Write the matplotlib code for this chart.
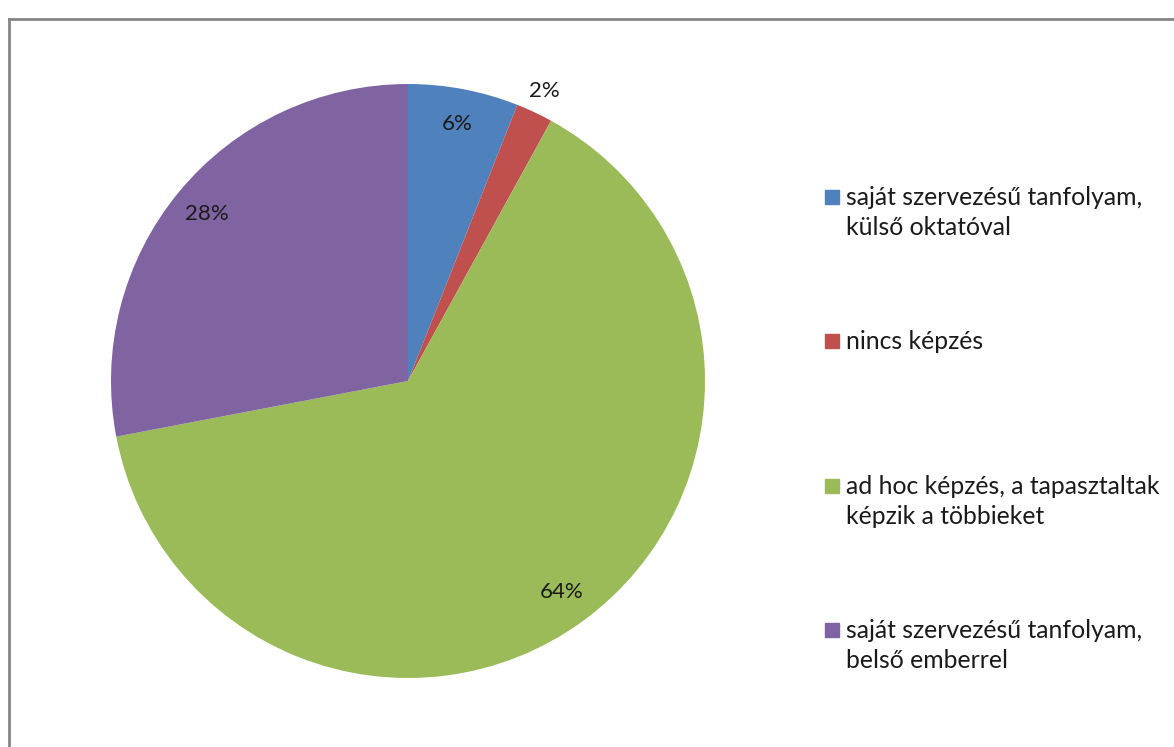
import matplotlib
matplotlib.use('Agg')
import matplotlib.pyplot as plt
import numpy as np
from matplotlib.lines import Line2D
from matplotlib.patches import Rectangle

labels = [
    'saját szervezésű tanfolyam,\nkülső oktatóval',
    'nincs képzés',
    'ad hoc képzés, a tapasztaltak\nképzik a többieket',
    'saját szervezésű tanfolyam,\nbelső emberrel',
]
values = [6, 2, 64, 28]
colors = ['#4F81BD', '#C0504D', '#9BBB59', '#8064A2']

plt.rcParams['font.family'] = ['Lato', 'DejaVu Sans']

W, H = 1174, 747
fig = plt.figure(figsize=(W / 100, H / 100), dpi=100)

# pie centre (408, 381) px, radius 297 px
cx, cy, r = 408, 381, 297
ax = fig.add_axes([(cx - r) / W, (H - cy - r) / H, 2 * r / W, 2 * r / H])
wedges, texts, autotexts = ax.pie(
    values, colors=colors, startangle=90, counterclock=False,
    autopct='%1.0f%%', pctdistance=0.88,
    textprops={'fontsize': 16, 'color': '#1a1a1a'},
    wedgeprops={'linewidth': 0},
)
# small slice label sits outside
for w, t, v in zip(wedges, autotexts, values):
    if v < 5:
        ang = np.deg2rad((w.theta1 + w.theta2) / 2)
        t.set_position((1.08 * np.cos(ang), 1.08 * np.sin(ang)))
ax.set_xlim(-1, 1)
ax.set_ylim(-1, 1)
ax.set_aspect('equal')

# legend drawn by hand
lx, ly0, step = 825, 190, 144.3
for i, (lab, col) in enumerate(zip(labels, colors)):
    y = ly0 + i * step
    fig.patches.append(Rectangle((lx / W, 1 - (y + 14) / H), 14 / W, 14 / H,
                                 transform=fig.transFigure, color=col))
    fig.text(846 / W, 1 - (y - 4) / H, lab, fontsize=17.8, va='top', ha='left',
             linespacing=1.38, color='#1a1a1a')

# outer frame (partially cut)
fig.add_artist(Line2D([9 / W, 9 / W], [0, 1 - 19 / H], transform=fig.transFigure,
                      color='#868686', linewidth=2))
fig.add_artist(Line2D([9 / W, 1], [1 - 19 / H, 1 - 19 / H], transform=fig.transFigure,
                      color='#868686', linewidth=2))

fig.savefig('out.png', dpi=100)
